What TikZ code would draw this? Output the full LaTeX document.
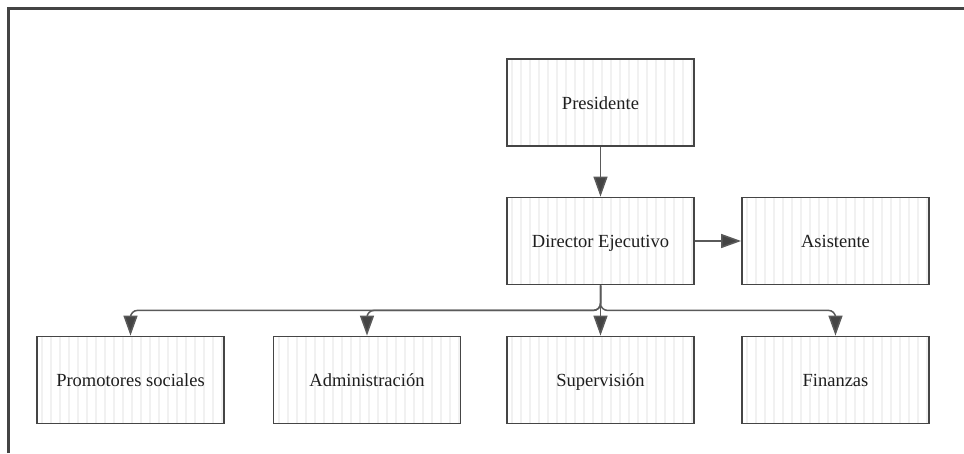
\documentclass[tikz,border=0pt]{standalone}
\usepackage{fontspec}
\setmainfont{Liberation Serif}
\usetikzlibrary{arrows.meta}
\definecolor{frameline}{HTML}{444444}
\definecolor{boxline}{HTML}{454545}
\definecolor{wire}{HTML}{5A5A5A}
\definecolor{stripecol}{HTML}{F1F1F1}
\definecolor{ink}{HTML}{1E1E1E}
\tikzset{
  orgbox/.style={
    draw=boxline, line width=1.8pt, fill=white,
    minimum width=187pt, minimum height=87pt, inner sep=0pt,
    text height=15pt, text depth=2pt,
    text=ink, font=\fontsize{18.5}{21}\selectfont,
    path picture={
      \foreach \i in {0,...,20} {
        \draw[stripecol, line width=2pt]
          ([xshift=5pt+\i*9pt]path picture bounding box.south west) --
          ([xshift=5pt+\i*9pt]path picture bounding box.north west);
      }
    }
  },
  link/.style={draw=wire, line width=1.5pt,
    -{Triangle[length=20pt,width=14pt,fill=frameline]}},
  bus/.style={link, rounded corners=7pt}
}
\begin{document}
\begin{tikzpicture}[x=1pt,y=-1pt]
  \useasboundingbox (0,0) rectangle (964,453);
  % open frame: top and left edges only
  \draw[frameline, line width=3pt] (8,453) -- (8,8) -- (964,8);

  % boxes
  \node[orgbox] (pres) at (600.5,102.5) {Presidente};
  \node[orgbox] (dir)  at (600.5,241)   {Director Ejecutivo};
  \node[orgbox] (asis) at (835.5,241)   {Asistente};
  \node[orgbox] (prom) at (130.5,380)   {Promotores sociales};
  \node[orgbox] (adm)  at (367,380)     {Administración};
  \node[orgbox] (sup)  at (600.5,380)   {Supervisión};
  \node[orgbox] (fin)  at (835.5,380)   {Finanzas};

  % connectors
  \draw[link] (pres.south) -- (dir.north);
  \draw[link] (dir.east) -- (asis.west);
  \draw[link] (dir.south) -- (sup.north);
  \draw[bus] (dir.south) -- ++(0,25) -| (prom.north);
  \draw[bus] (dir.south) -- ++(0,25) -| (adm.north);
  \draw[bus] (dir.south) -- ++(0,25) -| (fin.north);
\end{tikzpicture}
\end{document}
